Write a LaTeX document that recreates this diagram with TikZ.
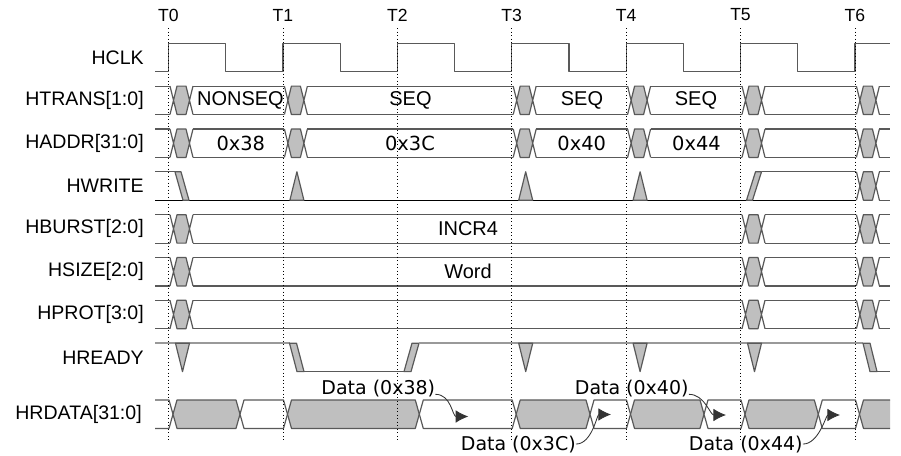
\documentclass[tikz,border=0pt]{standalone}
\usepackage{fontspec}
\setmainfont{Liberation Sans}
\newfontfamily\hexfam{DejaVu Sans}
\usetikzlibrary{arrows.meta}

% value change on a bus row: time #1, row centre #2
\newcommand{\busx}[2]{%
  \fill[xfill] (#1+5,#2) -- (#1+8.5,#2-14.2) -- (#1+17.5,#2-14.2) -- (#1+21,#2)
    -- (#1+17.5,#2+14.2) -- (#1+8.5,#2+14.2) -- cycle;
  \draw[sig] (#1+1.5,#2-14.2) -- (#1+8.5,#2+14.2) -- (#1+17.5,#2+14.2) -- (#1+24.5,#2-14.2)
             (#1+1.5,#2+14.2) -- (#1+8.5,#2-14.2) -- (#1+17.5,#2-14.2) -- (#1+24.5,#2+14.2);
}
% both rails of a bus from #1 to #2, row centre #3
\newcommand{\busseg}[3]{%
  \draw[sig] (#1,#3-14.2) -- (#2,#3-14.2) (#1,#3+14.2) -- (#2,#3+14.2);
}

\tikzset{
  sig/.style={draw=black!65, line width=0.85pt, line join=round},
  xfill/.style={fill=black!25},
  hiline/.style={draw=black!40, line width=1.3pt},
  tline/.style={dotted, line width=0.5pt},
  signame/.style={anchor=east, inner sep=0pt, font=\fontsize{13.9}{16}\selectfont},
  tname/.style={inner sep=0pt, font=\fontsize{12.5}{14}\selectfont},
  busval/.style={inner sep=0pt, font=\fontsize{14.2}{16}\selectfont},
  hexval/.style={inner sep=0pt, font=\hexfam\fontsize{13.8}{16}\selectfont},
  datalbl/.style={inner sep=0pt, anchor=base, font=\hexfam\fontsize{13.5}{16}\selectfont},
  dataarrow/.style={draw=black!80, line width=0.6pt, -{Latex[length=9pt,width=9pt]}}
}

\begin{document}
\begin{tikzpicture}[x=0.025cm, y=-0.025cm]
  \fill[white] (0,0) rectangle (901,455);
  \useasboundingbox (0,0) rectangle (901,455);

  % HCLK
  \draw[sig] (155,71.7) \foreach \t in {168.5,282.9,397.3,511.7,626.1,740.5}
    { -- (\t,71.7) -- (\t,43.3) -- (\t+57.2,43.3) -- (\t+57.2,71.7) }
    -- (854.9,71.7) -- (854.9,43.3) -- (890,43.3);

  % HTRANS, HADDR
  \foreach \y in {100.3,143.2} {
    \foreach \t in {168.5,282.9,511.7,626.1,740.5,854.9} \busx{\t}{\y};
    \foreach \a/\b in {155/170, 193/284.4, 307.4/513.2, 536.2/627.6, 650.6/742, 765/856.4, 879.4/890}
      \busseg{\a}{\b}{\y};
  }

  % HBURST, HSIZE, HPROT
  \foreach \y in {228.9,271.7,314.5} {
    \foreach \t in {168.5,740.5,854.9} \busx{\t}{\y};
    \foreach \a/\b in {155/170, 193/742, 765/856.4, 879.4/890} \busseg{\a}{\b}{\y};
  }

  % HWRITE
  \draw[sig] (155,171.8) -- (175,171.8);
  \draw[sig, draw=black] (155,200.2) -- (856.4,200.2);
  \filldraw[sig, xfill] (175,171.8) -- (181,171.8) -- (189,200.2) -- (183,200.2) -- cycle;
  \foreach \t in {282.9,511.7,626.1}
    \filldraw[sig, xfill] (\t+7,200.2) -- (\t+14,171.8) -- (\t+21,200.2) -- cycle;
  \filldraw[sig, xfill] (746.5,200.2) -- (752.5,200.2) -- (761.5,171.8) -- (755.5,171.8) -- cycle;
  \draw[sig] (761.5,171.8) -- (856.4,171.8);
  \busx{854.9}{186};
  \busseg{879.4}{890}{186};

  % HREADY
  \draw[hiline] (155,343.2) -- (289.5,343.2);
  \filldraw[sig, xfill] (289.5,343.2) -- (296.5,343.2) -- (304,371.6) -- (297,371.6) -- cycle;
  \draw[sig] (304,371.6) -- (404,371.6);
  \filldraw[sig, xfill] (404,371.6) -- (411,371.6) -- (419,343.2) -- (412,343.2) -- cycle;
  \draw[hiline] (419,343.2) -- (863,343.2);
  \filldraw[sig, xfill] (863,343.2) -- (870,343.2) -- (877,371.6) -- (870,371.6) -- cycle;
  \draw[sig] (877,371.6) -- (890,371.6);
  \foreach \t in {168.5,511.7,626.1,740.5}
    \filldraw[sig, xfill] (\t+7,343.2) -- (\t+21,343.2) -- (\t+14,371.6) -- cycle;

  % HRDATA
  \draw[sig] (155,400) -- (169,400) -- (173,414.2) -- (169,428.4) -- (155,428.4);
  \foreach \a/\b/\f in {173/240/black!25, 240/287.5/white, 287.5/419.3/black!25,
      419.3/516.2/white, 516.2/590/black!25, 590/630.5/white, 630.5/704/black!25,
      704/745/white, 745/818.3/black!25, 818.3/859.5/white}
    \filldraw[sig, fill=\f] (\a,414.2) -- (\a+4,400) -- (\b-4,400) -- (\b,414.2)
      -- (\b-4,428.4) -- (\a+4,428.4) -- cycle;
  \fill[xfill] (859.5,414.2) -- (863.5,400) -- (890,400) -- (890,428.4) -- (863.5,428.4) -- cycle;
  \draw[sig] (890,400) -- (863.5,400) -- (859.5,414.2) -- (863.5,428.4) -- (890,428.4);

  % signal names
  \node[signame] (hclk)   at (144,57.5)  {HCLK};
  \node[signame] (htrans) at (144,100.3) {HTRANS[1:0]};
  \node[signame] (haddr)  at (144,143.2) {HADDR[31:0]};
  \node[signame] (hwrite) at (144,186)   {HWRITE};
  \node[signame] (hburst) at (144,228.9) {HBURST[2:0]};
  \node[signame] (hsize)  at (144,271.7) {HSIZE[2:0]};
  \node[signame] (hprot)  at (144,314.5) {HPROT[3:0]};
  \node[signame] (hready) at (144,357.4) {HREADY};
  \node[signame] (hrdata) at (142,414.2) {HRDATA[31:0]};

  % bus values
  \node[busval] (nonseq) at (240.5,100.3) {NONSEQ};
  \node[busval] (seqa)   at (410.5,100.3) {SEQ};
  \node[busval] (seqb)   at (582,100.3)   {SEQ};
  \node[busval] (seqc)   at (696,100.3)   {SEQ};
  \node[hexval] (adra)   at (240.8,143.2) {0x38};
  \node[hexval] (adrb)   at (410,143.2)   {0x3C};
  \node[hexval] (adrc)   at (581.7,143.2) {0x40};
  \node[hexval] (adrd)   at (696.5,143.2) {0x44};
  \node[busval] (incr)   at (468,228.9)   {INCR4};
  \node[busval] (word)   at (468,271.7)   {Word};

  % read data labels
  \node[datalbl] (d38) at (378.3,394.3) {Data (0x38)};
  \node[datalbl] (d3c) at (518.3,450)   {Data (0x3C)};
  \node[datalbl] (d40) at (631.7,394.3) {Data (0x40)};
  \node[datalbl] (d44) at (745.8,450)   {Data (0x44)};
  \coordinate (p38) at (468.3,416.5);
  \coordinate (p3c) at (611,414.5);
  \coordinate (p40) at (726,415);
  \coordinate (p44) at (840,415);
  \draw[dataarrow] (d38.base east) .. controls +(16,0) and +(-16,0) .. (p38);
  \draw[dataarrow] (d3c.east) .. controls +(16,0) and +(-14,0) .. (p3c);
  \draw[dataarrow] (d40.base east) .. controls +(16,0) and +(-16,0) .. (p40);
  \draw[dataarrow] (d44.east) .. controls +(16,0) and +(-14,0) .. (p44);

  % clock edges
  \foreach \t [count=\i from 0] in {168.5,282.9,397.3,511.7,626.1,740.5,854.9} {
    \node[tname] (t\i) at (\t,15) {T\i};
    \draw[tline] (\t,28) -- (\t,442);
  }
\end{tikzpicture}
\end{document}
